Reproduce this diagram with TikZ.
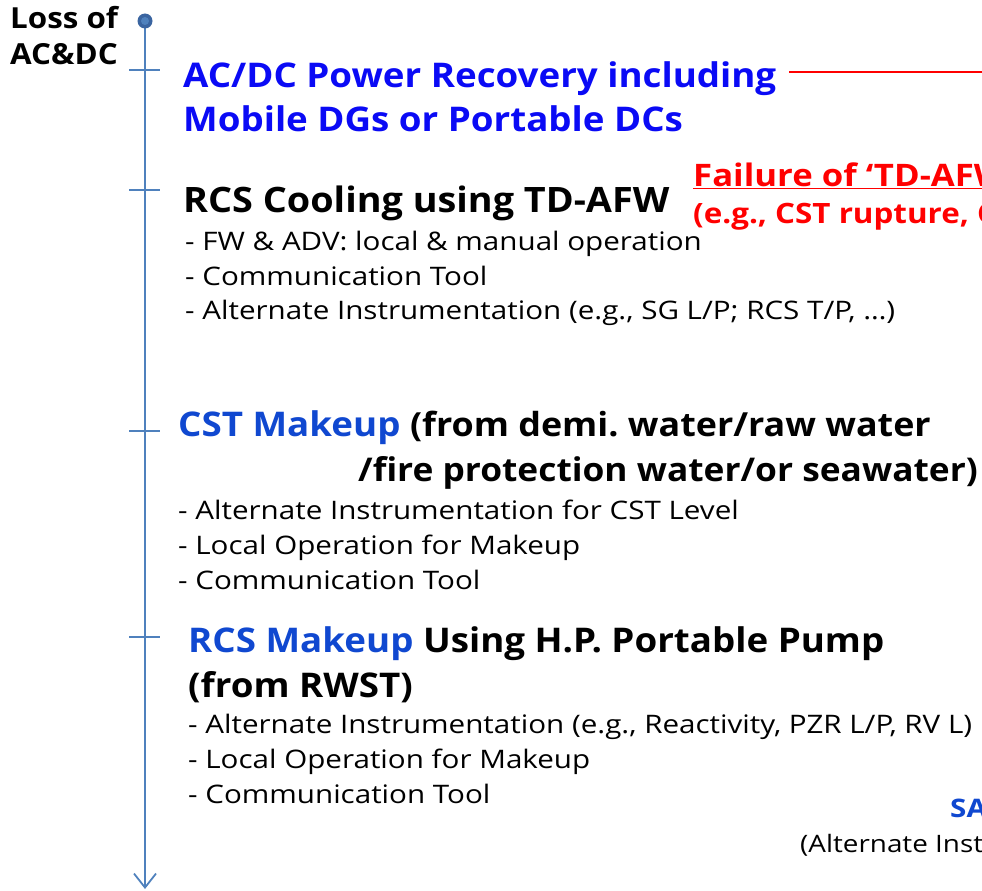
\documentclass[tikz,border=0pt]{standalone}
\usepackage{fontspec}
\setmainfont{Open Sans}
\newfontfamily\subf[FakeStretch=1.16]{Open Sans}
\newfontfamily\headf[FakeStretch=1.08]{Open Sans}
\newfontfamily\redf[FakeStretch=1.12]{Open Sans}
\newfontfamily\lossf[FakeStretch=1.08]{Open Sans}
\usetikzlibrary{arrows.meta}
\definecolor{axisblue}{RGB}{79,129,189}
\definecolor{dotblue}{RGB}{58,100,160}
\definecolor{brightblue}{RGB}{10,10,245}
\definecolor{darkblue}{RGB}{16,72,208}
\definecolor{redtxt}{RGB}{255,0,0}
\frenchspacing
\tikzset{
  txt/.style={inner sep=0pt, anchor=base west},
  head/.style={txt, font=\headf\bfseries\fontsize{34}{40}\selectfont},
  headsm/.style={txt, font=\headf\bfseries\fontsize{32.7}{40}\selectfont},
  sub/.style={txt, font=\subf\fontsize{25.5}{30}\selectfont},
  redhead/.style={txt, text=redtxt, font=\redf\bfseries\fontsize{31}{36}\selectfont},
  redsub/.style={txt, text=redtxt, font=\redf\bfseries\fontsize{28}{32}\selectfont},
  lossl/.style={txt, font=\lossf\bfseries\fontsize{29}{32}\selectfont},
  tick/.style={axisblue, line width=1.6pt},
}
\begin{document}
\begin{tikzpicture}[x=1pt,y=-1pt]
\useasboundingbox (0,0) rectangle (982,891);
\clip (0,0) rectangle (982,891);
% axis
\coordinate (top) at (145,21);
\coordinate (bot) at (145,889);
\draw[axisblue, line width=1.8pt, -{Straight Barb[length=14pt,width=22pt,line width=1.8pt]}] (top) -- (bot);
\fill[dotblue] (top) circle (7.5);
\fill[axisblue] (top) circle (4);
% ticks
\foreach \y in {70,190,431,637}{
  \draw[tick] (129,\y) -- (160,\y);
}
% start label
\node[lossl] (loss1) at (10,29) {Loss of};
\node[lossl] (loss2) at (10,65) {AC\&DC};
% stage 1
\node[head, text=brightblue] (s1a) at (183,87) {AC/DC Power Recovery including};
\node[head, text=brightblue] (s1b) at (183,131) {Mobile DGs or Portable DCs};
\coordinate (redstart) at (789,72);
\coordinate (redend) at (982,72);
\draw[redtxt, line width=1.6pt] (redstart) -- (redend);
% stage 2
\node[head, font=\headf\bfseries\fontsize{35}{40}\selectfont] (s2) at (183,212) {RCS Cooling using TD-AFW};
\node[redhead] (f1) at (693,186) {\underline{Failure of ‘TD-AFW’}};
\node[redsub] (f2) at (693,223) {(e.g., CST rupture, CST};
\node[sub] (s2a) at (185,250) {- FW \& ADV: local \& manual operation};
\node[sub] (s2b) at (185,285) {- Communication Tool};
\node[sub] (s2c) at (185,319) {- Alternate Instrumentation (e.g., SG L/P; RCS T/P, …)};
% stage 3
\node[head] (s3) at (178,436) {\textcolor{darkblue}{CST Makeup} {\fontsize{33.2}{40}\selectfont (from demi. water/raw water}};
\node[headsm] (s3l2) at (358,481) {/fire protection water/or seawater)};
\node[sub] (s3a) at (178,519) {- Alternate Instrumentation for CST Level};
\node[sub] (s3b) at (178,554) {- Local Operation for Makeup};
\node[sub] (s3c) at (178,589) {- Communication Tool};
% stage 4
\node[head] (s4) at (188,652) {\textcolor{darkblue}{RCS Makeup} Using H.P. Portable Pump};
\node[head] (s4l2) at (188,697) {(from RWST)};
\node[sub] (s4a) at (188,733) {- Alternate Instrumentation (e.g., Reactivity, PZR L/P, RV L)};
\node[sub] (s4b) at (188,768) {- Local Operation for Makeup};
\node[sub] (s4c) at (188,803) {- Communication Tool};
% cut-off right side
\node[txt, text=darkblue, font=\subf\bfseries\fontsize{25.5}{30}\selectfont] (sa) at (950,817) {SAMG};
\node[sub, font=\subf\fontsize{24}{30}\selectfont] (sa2) at (800,852) {(Alternate Instrumentation)};
\end{tikzpicture}
\end{document}
